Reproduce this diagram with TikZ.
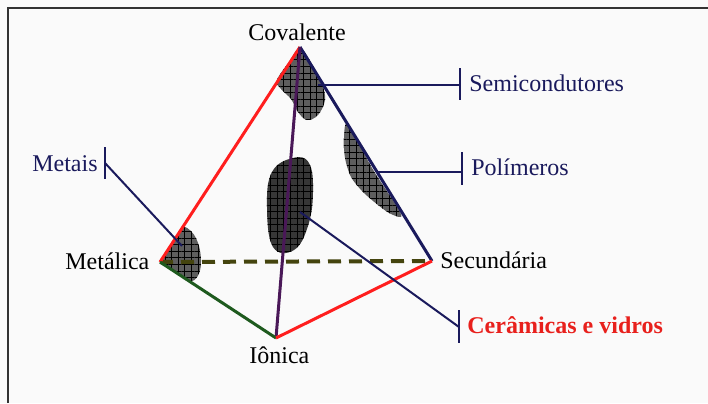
\documentclass[tikz,border=0pt]{standalone}
\usepackage{fontspec}
\setmainfont{Liberation Serif}
\usetikzlibrary{patterns.meta}
\definecolor{bg}{HTML}{FAFAFA}
\definecolor{frame}{HTML}{333333}
\definecolor{navy}{HTML}{1A1A5C}
\definecolor{edgered}{HTML}{FF1E1E}
\definecolor{edgepurple}{HTML}{4A1858}
\definecolor{edgegreen}{HTML}{1E5A1E}
\definecolor{olive}{HTML}{44440E}
\definecolor{labred}{HTML}{E8201C}
\definecolor{blobgray}{HTML}{5E5E5E}
\definecolor{blobdark}{HTML}{363636}
\tikzset{
  lbl/.style={inner sep=0pt, font=\fontsize{12}{14}\selectfont},
  navylbl/.style={lbl, text=navy},
  edgeline/.style={line width=1.5pt},
  pointer/.style={navy, line width=1pt},
  tickline/.style={navy, line width=1pt},
  gridpat/.style={postaction={pattern={Lines[distance=3.3pt, angle=0, line width=0.45pt]}, pattern color=black},
                  postaction={pattern={Lines[distance=3.3pt, angle=90, line width=0.45pt]}, pattern color=black}},
  blob/.style={fill=blobgray, gridpat},
  darkblob/.style={fill=blobdark, gridpat},
}
\begin{document}
\begin{tikzpicture}[x=0.5pt,y=-0.5pt]
\useasboundingbox (0,0) rectangle (708,403);
\fill[bg] (0,0) rectangle (708,403);
\draw[frame, line width=1pt] (8,403) -- (8,8) -- (708,8);

% vertices
\coordinate (C) at (300,47);
\coordinate (M) at (160,262);
\coordinate (S) at (432,261);
\coordinate (I) at (276,338);

% blobs
\path[blob] plot[smooth cycle, tension=0.6] coordinates {(300,48) (312,64) (322,84) (325,100) (318,115) (307,120) (298,112) (291,99) (281,89) (277,80) (289,62)};
\path[blob] plot[smooth cycle, tension=0.5] coordinates {(348,124) (372,168) (401,214) (391,214) (378,205) (363,192) (351,177) (345,158) (344,138)};
\path[darkblob] plot[smooth cycle, tension=0.7] coordinates {(293,158) (309,163) (313,192) (308,226) (294,250) (273,247) (267,207) (272,172)};
\path[blob] (M) -- (183,226) .. controls (195,230) and (201,245) .. (201,262) .. controls (201,274) and (196,281) .. (190,282) -- cycle;

% edges
\draw[olive, line width=2pt, dash pattern=on 6.5pt off 4pt] (M) -- (S);
\draw[edgered, edgeline] (C) -- (M);
\draw[navy, edgeline] (C) -- (S);
\draw[edgepurple, edgeline] (C) -- (I);
\draw[edgegreen, edgeline] (M) -- (I);
\draw[edgered, edgeline] (I) -- (S);

% vertex labels
\node[lbl, anchor=base] (cov) at (297,40) {Covalente};
\node[lbl, anchor=base west] (met) at (65,269) {Metálica};
\node[lbl, anchor=base west] (sec) at (440,268) {Secundária};
\node[lbl, anchor=base west] (ion) at (249,363) {Iônica};

% pointer labels
\node[navylbl, anchor=base west] (semi) at (469,91) {Semicondutores};
\node[navylbl, anchor=base west] (poli) at (471,175) {Polímeros};
\node[navylbl, anchor=base east] (metais) at (98,171) {Metais};
\node[lbl, text=labred, font=\fontsize{12}{14}\selectfont\bfseries, anchor=base west] (cer) at (467,333) {Cerâmicas e vidros};

% ticks
\coordinate (tsemi) at (460,85);
\coordinate (tpoli) at (462,172);
\coordinate (tmet) at (105,163);
\coordinate (tcer) at (459,327);
\draw[tickline] (460,68) -- (460,100);
\draw[tickline] (462,152) -- (462,185);
\draw[tickline] (105,147) -- (105,179);
\draw[tickline] (459,310) -- (459,343);

% pointer lines
\coordinate (psemi) at (318,85);
\coordinate (ppoli) at (377,172);
\coordinate (pmet) at (182,246);
\coordinate (pcer) at (300,212);
\draw[pointer] (psemi) -- (tsemi);
\draw[pointer] (ppoli) -- (tpoli);
\draw[pointer] (tmet) -- (pmet);
\draw[pointer] (pcer) -- (tcer);
\end{tikzpicture}
\end{document}
